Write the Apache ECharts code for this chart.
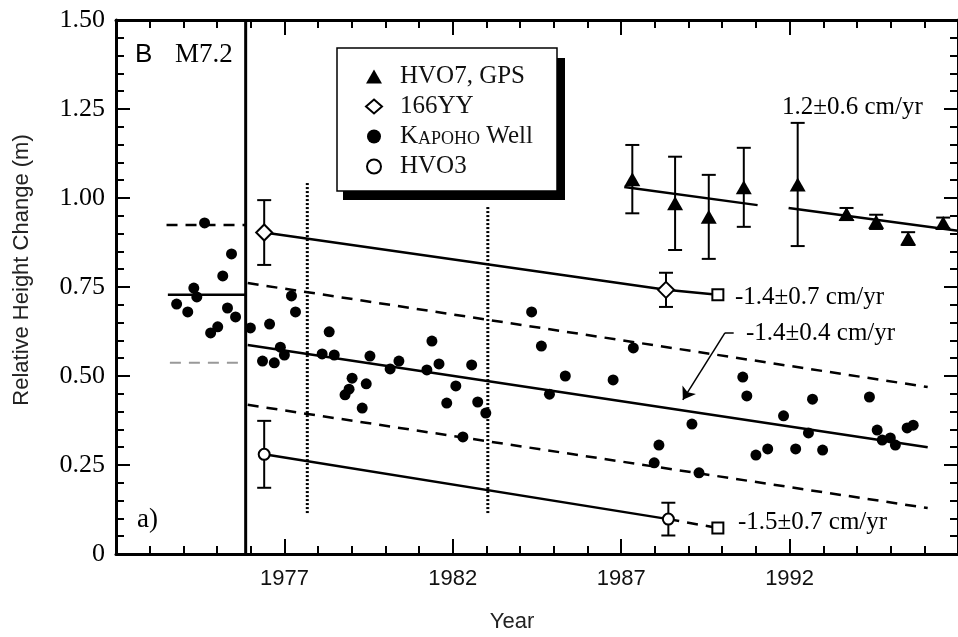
<!DOCTYPE html>
<html>
<head>
<meta charset="utf-8">
<title>Relative Height Change</title>
<script src="https://cdn.jsdelivr.net/npm/echarts@6/dist/echarts.min.js"></script>
<style>
  html, body { margin: 0; padding: 0; background: #fff; }
  #chart { width: 958px; height: 637px; }
</style>
</head>
<body>
<div id="chart"></div>
<script>
// Kapoho Well levelling (filled dots)
const kapohoYear = [1973.80, 1974.13, 1974.31, 1974.40, 1974.63, 1974.81, 1975.02, 1975.17, 1975.31, 1975.43,
  1975.55, 1975.99, 1976.35, 1976.56, 1976.70, 1976.88, 1977.00, 1977.21, 1977.33, 1978.12,
  1978.33, 1978.48, 1978.80, 1978.92, 1979.01, 1979.31, 1979.43, 1979.54, 1980.14, 1980.40,
  1981.23, 1981.38, 1981.59, 1981.82, 1982.09, 1982.30, 1982.56, 1982.74, 1982.98, 1984.34,
  1984.63, 1984.87, 1985.34, 1986.76, 1987.36, 1987.98, 1988.12, 1989.10, 1989.31, 1990.61,
  1990.73, 1991.00, 1991.35, 1991.82, 1992.18, 1992.56, 1992.68, 1992.98, 1994.37, 1994.60,
  1994.75, 1994.99, 1995.14, 1995.49, 1995.67]
const kapohoHeight = [0.702, 0.680, 0.747, 0.722, 0.930, 0.621, 0.638, 0.781, 0.691, 0.843,
  0.666, 0.635, 0.542, 0.646, 0.537, 0.581, 0.559, 0.725, 0.680, 0.562,
  0.624, 0.559, 0.447, 0.463, 0.494, 0.410, 0.478, 0.556, 0.520, 0.542,
  0.517, 0.598, 0.534, 0.424, 0.472, 0.329, 0.531, 0.427, 0.396, 0.680,
  0.584, 0.449, 0.500, 0.489, 0.579, 0.256, 0.306, 0.365, 0.228, 0.497,
  0.444, 0.278, 0.295, 0.388, 0.295, 0.340, 0.435, 0.292, 0.441, 0.348,
  0.320, 0.326, 0.306, 0.354, 0.362]

// HVO7 / GPS (triangles with error bars)
const gpsYear = [1987.33, 1988.60, 1989.60, 1990.64, 1992.24, 1993.69, 1994.57, 1995.52, 1996.56]
const gpsHeight = [1.053, 0.985, 0.947, 1.030, 1.038, 0.955, 0.933, 0.886, 0.930]
const gpsError = [0.096, 0.131, 0.118, 0.111, 0.173, 0.017, 0.020, 0.018, 0.015]

// 166YY (open diamonds) and HVO3 (open circles)
const yyYear = [1976.40, 1988.33]
const yyHeight = [0.903, 0.742]
const yyError = [0.091, 0.048]
const hvo3Year = [1976.40, 1988.40]
const hvo3Height = [0.280, 0.098]
const hvo3Error = [0.094, 0.046]
// extrapolated end points (open squares)
const squareYear = [1989.87, 1989.87]
const squareHeight = [0.728, 0.073]

// fitted lines
const preMean = [[1973.54, 0.728], [1975.85, 0.728]]
const preUpper = [[1973.50, 0.924], [1975.85, 0.924]]
const preLower = [[1973.60, 0.537], [1975.85, 0.537]]
const kapohoFit = [[1975.91, 0.587], [1996.10, 0.300]]
const kapohoUpper = [[1975.91, 0.761], [1996.10, 0.469]]
const kapohoLower = [[1975.91, 0.419], [1996.10, 0.129]]
const yyFit = [[1976.40, 0.903], [1988.33, 0.742], [1989.87, 0.728]]
const hvo3Fit = [[1976.40, 0.280], [1988.40, 0.098]]
const hvo3Tail = [[1988.40, 0.098], [1989.87, 0.073]]
const gpsFit1 = [[1987.09, 1.031], [1991.05, 0.980]]
const gpsFit2 = [[1991.97, 0.972], [1997.00, 0.908]]

// event markers
const quakeYear = 1975.85
const dottedLine1 = [[1977.68, 0.115], [1977.68, 1.042]]
const dottedLine2 = [[1983.04, 0.115], [1983.04, 0.980]]
const arrowTail = [[1990.34, 0.621], [1990.08, 0.621]]
const arrowHead = [[1990.08, 0.621], [1988.83, 0.433]]

const yTickLabels = ['0', '0.25', '0.50', '0.75', '1.00', '1.25', '1.50']

function zip(a, b, c) {
  return a.map((v, i) => c ? [v, b[i], c[i]] : [v, b[i]])
}

function errorBar(params, api) {
  const x = api.value(0)
  const y = api.value(1)
  const e = api.value(2)
  const top = api.coord([x, y + e])
  const bot = api.coord([x, y - e])
  const hw = 7
  const style = { stroke: '#000', lineWidth: 2 }
  return {
    type: 'group',
    children: [
      { type: 'line', shape: { x1: top[0], y1: top[1], x2: bot[0], y2: bot[1] }, style: style },
      { type: 'line', shape: { x1: top[0] - hw, y1: top[1], x2: top[0] + hw, y2: top[1] }, style: style },
      { type: 'line', shape: { x1: bot[0] - hw, y1: bot[1], x2: bot[0] + hw, y2: bot[1] }, style: style }
    ]
  }
}

function fitLine(data, dashed, color, width) {
  return {
    type: 'line',
    data: data,
    symbol: 'none',
    silent: true,
    z: 2,
    lineStyle: { color: color || '#000', width: width || 2.5, type: dashed ? [11, 8] : 'solid' }
  }
}

const serif = 'Liberation Serif'
const sans = 'Liberation Sans'
const black = '#000'

const xBase = {
  type: 'value',
  min: 1972,
  max: 1997,
  interval: 5,
  splitLine: { show: false },
  axisLine: { onZero: false, lineStyle: { color: black, width: 3 } },
  axisTick: { inside: true, length: 15, lineStyle: { color: black, width: 2 } },
  minorTick: { show: true, splitNumber: 5, length: 8, lineStyle: { color: black, width: 2 } }
}
const yBase = {
  type: 'value',
  min: 0,
  max: 1.5,
  interval: 0.25,
  splitLine: { show: false },
  axisLine: { show: true, onZero: false, lineStyle: { color: black, width: 3 } },
  axisTick: { show: true, inside: true, length: 14, lineStyle: { color: black, width: 2 } },
  minorTick: { show: true, splitNumber: 5, length: 8, lineStyle: { color: black, width: 2 } }
}

const chart = echarts.init(document.getElementById('chart'))

chart.setOption({
  backgroundColor: '#fff',
  animation: false,
  grid: { left: 116, right: -5, top: 20, bottom: 83 },
  xAxis: [
    Object.assign({}, xBase, {
      position: 'bottom',
      axisLabel: {
        margin: 14, color: '#111', fontFamily: sans, fontSize: 22,
        showMinLabel: false, showMaxLabel: false,
        formatter: v => String(Math.round(v))
      }
    }),
    Object.assign({}, xBase, { position: 'top', axisLabel: { show: false } })
  ],
  yAxis: [
    Object.assign({}, yBase, {
      position: 'left',
      axisLabel: {
        margin: 11, color: black, fontFamily: serif, fontSize: 26,
        formatter: v => yTickLabels[Math.round(v / 0.25)]
      }
    }),
    Object.assign({}, yBase, { position: 'right', axisLabel: { show: false } })
  ],
  legend: {
    orient: 'vertical',
    left: 365,
    top: 64,
    padding: 0,
    itemGap: 5,
    itemWidth: 16,
    itemHeight: 14,
    selectedMode: false,
    textStyle: {
      fontFamily: serif, fontSize: 25, lineHeight: 25, color: '#111', padding: [0, 0, 0, 13],
      rich: {
        a: { fontFamily: serif, fontSize: 25, lineHeight: 25, color: '#111', verticalAlign: 'bottom' },
        b: { fontFamily: serif, fontSize: 18, lineHeight: 25, color: '#111', verticalAlign: 'bottom', padding: [0, 0, 1, 0] }
      }
    },
    formatter: name => name === 'Kapoho Well' ? '{a|K}{b|APOHO}{a| Well}' : name,
    data: [
      { name: 'HVO7, GPS', icon: 'triangle' },
      { name: '166YY', icon: 'diamond' },
      { name: 'Kapoho Well', icon: 'circle' },
      { name: 'HVO3', icon: 'circle' }
    ]
  },
  graphic: [
    { type: 'rect', z: 3, z2: 0, shape: { x: 343, y: 58, width: 222, height: 142 }, style: { fill: black } },
    { type: 'rect', z: 3, z2: 1, shape: { x: 337, y: 48, width: 220, height: 143 }, style: { fill: '#fff', stroke: black, lineWidth: 1.5 } },
    { type: 'text', x: 135, y: 55, style: { text: 'B', font: '26px "Liberation Sans"', fill: black, verticalAlign: 'middle' } },
    { type: 'text', x: 175, y: 55, style: { text: 'M7.2', font: '27px "Liberation Serif"', fill: black, verticalAlign: 'middle' } },
    { type: 'text', x: 137, y: 520, style: { text: 'a)', font: '27px "Liberation Serif"', fill: black, verticalAlign: 'middle' } },
    { type: 'text', x: 782, y: 107, style: { text: '1.2\u00b10.6 cm/yr', font: '25px "Liberation Serif"', fill: black, verticalAlign: 'middle' } },
    { type: 'text', x: 735, y: 297, style: { text: '-1.4\u00b10.7 cm/yr', font: '25px "Liberation Serif"', fill: black, verticalAlign: 'middle' } },
    { type: 'text', x: 746, y: 333, style: { text: '-1.4\u00b10.4 cm/yr', font: '25px "Liberation Serif"', fill: black, verticalAlign: 'middle' } },
    { type: 'text', x: 738, y: 522, style: { text: '-1.5\u00b10.7 cm/yr', font: '25px "Liberation Serif"', fill: black, verticalAlign: 'middle' } },
    { type: 'text', x: 22, y: 270, rotation: Math.PI / 2, style: { text: 'Relative Height Change (m)', font: '22px "Liberation Sans"', fill: '#222', align: 'center', verticalAlign: 'middle' } },
    { type: 'text', x: 512, y: 622, style: { text: 'Year', font: '22px "Liberation Sans"', fill: '#222', align: 'center', verticalAlign: 'middle' } }
  ],
  series: [
    // M7.2 earthquake
    fitLine([[quakeYear, 0], [quakeYear, 1.5]], false, black, 3),
    {
      type: 'line', data: dottedLine1, symbol: 'none', silent: true, z: 2,
      lineStyle: { color: black, width: 3, type: [2, 2] }
    },
    {
      type: 'line', data: dottedLine2, symbol: 'none', silent: true, z: 2,
      lineStyle: { color: black, width: 3, type: [2, 2] }
    },
    fitLine(preMean, false),
    fitLine(preUpper, true),
    fitLine(preLower, true, '#999', 2),
    fitLine(kapohoFit, false),
    fitLine(kapohoUpper, true),
    fitLine(kapohoLower, true),
    fitLine(yyFit, false),
    fitLine(hvo3Fit, false),
    fitLine(hvo3Tail, true),
    fitLine(gpsFit1, false),
    fitLine(gpsFit2, false),
    fitLine(arrowTail, false, black, 1.5),
    {
      type: 'lines', coordinateSystem: 'cartesian2d', silent: true, z: 2,
      data: [{ coords: arrowHead }],
      symbol: ['none', 'arrow'], symbolSize: 12,
      lineStyle: { color: black, width: 1.5, opacity: 1 }
    },
    {
      type: 'custom', renderItem: errorBar, silent: true, z: 3,
      data: zip(gpsYear, gpsHeight, gpsError).concat(zip(yyYear, yyHeight, yyError), zip(hvo3Year, hvo3Height, hvo3Error))
    },
    {
      name: 'HVO7, GPS', type: 'scatter', z: 4, symbol: 'triangle', symbolSize: [16, 14],
      itemStyle: { color: black, opacity: 1 }, data: zip(gpsYear, gpsHeight)
    },
    {
      name: '166YY', type: 'scatter', z: 4, symbol: 'diamond', symbolSize: 16,
      itemStyle: { color: '#fff', borderColor: black, borderWidth: 2, opacity: 1 }, data: zip(yyYear, yyHeight)
    },
    {
      name: 'Kapoho Well', type: 'scatter', z: 4, symbol: 'circle', symbolSize: 11,
      itemStyle: { color: black, opacity: 1 }, data: zip(kapohoYear, kapohoHeight)
    },
    {
      name: 'HVO3', type: 'scatter', z: 4, symbol: 'circle', symbolSize: 11,
      itemStyle: { color: '#fff', borderColor: black, borderWidth: 2, opacity: 1 }, data: zip(hvo3Year, hvo3Height)
    },
    {
      type: 'scatter', z: 4, symbol: 'rect', symbolSize: 11,
      itemStyle: { color: '#fff', borderColor: black, borderWidth: 2, opacity: 1 }, data: zip(squareYear, squareHeight)
    }
  ]
})
</script>
</body>
</html>
